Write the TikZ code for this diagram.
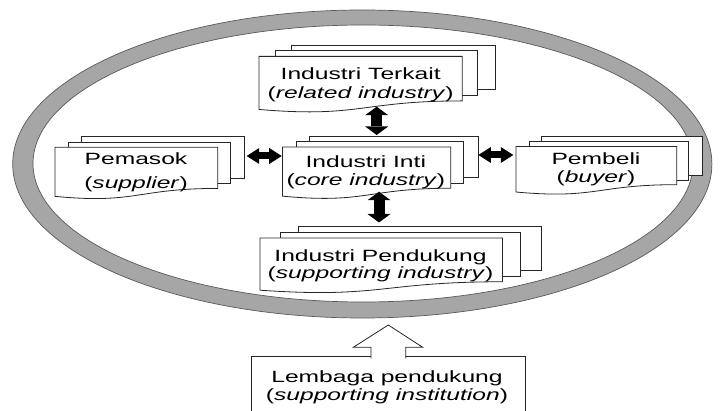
\documentclass[tikz,border=0pt]{standalone}
\usepackage{fontspec}
\setmainfont{Liberation Sans}[FakeStretch=1.51]
\usetikzlibrary{arrows.meta}

\definecolor{ringgray}{HTML}{A6A6A6}
\definecolor{ringedge}{HTML}{5A5A5A}
\definecolor{pageedge}{HTML}{262626}

\tikzset{
  pagebox/.style={fill=white, draw=pageedge, line width=0.8pt, line join=miter},
  txt/.style={font=\fontsize{16.3pt}{18.3pt}\selectfont, inner sep=0pt, anchor=base},
  vlink/.style={line width=11pt, >={Triangle[width=23pt,length=8.5pt,line width=0pt]}, <->},
  hlink/.style={line width=7pt, >={Triangle[width=16pt,length=12.5pt,line width=0pt]}, <->},
}

% stack of three pages: #1,#2 top-left corner, #3 width, #4 height
\newcommand\pagestack[4]{%
  \begin{scope}[shift={(#1,#2)}, x=#3pt, y=-#4pt]
    \filldraw[pagebox] (0.1376,0) rectangle (1,0.6663);
    \filldraw[pagebox] (0.0709,0.0840) rectangle (0.9259,0.7524);
    \filldraw[pagebox] (0,0.1701) -- (0.8609,0.1701) -- (0.8609,0.8343)
      .. controls (0.4305,0.8343) and (0.4305,1.0899) .. (0,0.9621) -- cycle;
  \end{scope}}

\begin{document}
\begin{tikzpicture}[x=1pt, y=-1pt]
  \useasboundingbox (0,0) rectangle (720,411);
  \fill[white] (0,0) rectangle (720,411);
  \clip (0,0) rectangle (720,411);

  % the cluster ring
  \filldraw[fill=ringgray, draw=ringedge, line width=0.7pt, even odd rule]
    (362.3,164) ellipse [x radius=349.6pt, y radius=154pt]
    (363,163.5) ellipse [x radius=330pt, y radius=138.5pt];

  % page stacks
  \pagestack{259}{45}{236}{67}
  \pagestack{282.5}{136.5}{195.5}{62}
  \pagestack{55}{136.7}{189}{62}
  \pagestack{516}{136.7}{186.7}{57.5}
  \pagestack{260}{226.7}{281.7}{66}

  % labels
  \node[txt] (tk1) at (360.7,80) {Industri Terkait};
  \node[txt] (tk2) at (360.7,98.3) {(\textit{related industry})};
  \node[txt] (in1) at (365.8,167.7) {Industri Inti};
  \node[txt] (in2) at (365.8,185.7) {(\textit{core industry})};
  \node[txt] (pm1) at (136,165) {Pemasok};
  \node[txt] (pm2) at (136,189) {(\textit{supplier})};
  \node[txt] (pb1) at (596,165) {Pembeli};
  \node[txt] (pb2) at (596,182.5) {(\textit{buyer})};
  \node[txt] (pd1) at (380.5,261.5) {Industri Pendukung};
  \node[txt] (pd2) at (380.5,279) {(\textit{supporting industry})};

  % link ends
  \coordinate (tk-s) at (376.7,106.7);
  \coordinate (in-n) at (376.7,135);
  \coordinate (in-s) at (379,191.7);
  \coordinate (pd-n) at (379,222.5);
  \coordinate (pm-e) at (246.7,156);
  \coordinate (in-w) at (281.7,156);
  \coordinate (in-e) at (478.4,155);
  \coordinate (pb-w) at (513.3,155);

  \draw[vlink] (tk-s) -- (in-n);
  \draw[vlink] (in-s) -- (pd-n);
  \draw[hlink] (pm-e) -- (in-w);
  \draw[hlink] (in-e) -- (pb-w);

  % supporting institution box and its hollow arrow
  \draw[pagebox] (251.7,356.7) rectangle (525.7,440);
  \filldraw[pagebox] (371,358.5) -- (371,347.3) -- (353.3,347.3) -- (388.3,325)
    -- (422.7,347.3) -- (405.7,347.3) -- (405.7,358.5);
  \node[txt] (lb1) at (387,382) {Lembaga pendukung};
  \node[txt] (lb2) at (387,400) {(\textit{supporting institution})};
\end{tikzpicture}
\end{document}
